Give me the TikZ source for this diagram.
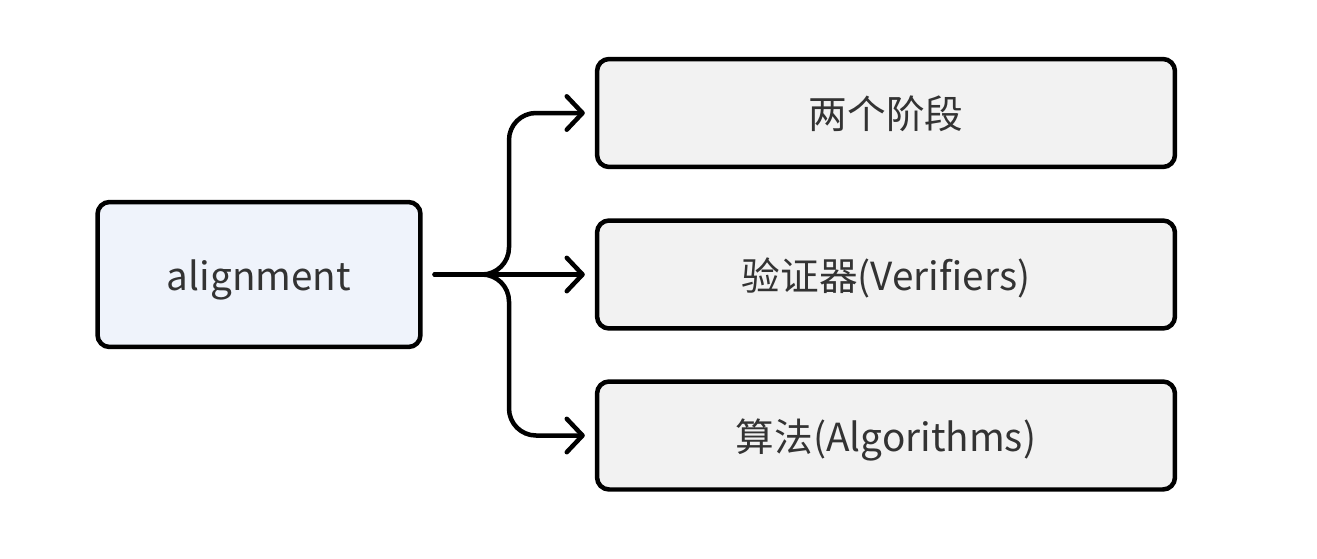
\documentclass[tikz,border=0pt]{standalone}
\usepackage{fontspec}
\setmainfont{Noto Sans CJK SC}
\usetikzlibrary{arrows.meta}
\definecolor{rootfill}{RGB}{239,243,251}
\definecolor{leaffill}{RGB}{242,242,242}
\definecolor{textgray}{RGB}{51,51,51}
\begin{document}
\begin{tikzpicture}[x=0.02cm, y=-0.02cm,
    box/.style={draw, rectangle, rounded corners=0.24cm, line width=0.09cm, text=textgray,
        text height=0.8cm, text depth=0.18cm, font=\fontsize{22pt}{26pt}\selectfont},
    link/.style={line width=0.09cm, line cap=round, rounded corners=0.54cm,
        -{Straight Barb[length=9pt, width=19pt, round]}, shorten <=0.24cm, shorten >=0.2cm}]
    \useasboundingbox (0,0) rectangle (1317,558);
    \node[box, fill=rootfill, minimum width=6.46cm, minimum height=2.9cm] (align) at (259,274.5) {alignment};
    \node[box, fill=leaffill, minimum width=11.56cm, minimum height=2.16cm] (stage) at (886,113) {两个阶段};
    \node[box, fill=leaffill, minimum width=11.56cm, minimum height=2.16cm] (verif) at (886,274.5) {验证器(Verifiers)};
    \node[box, fill=leaffill, minimum width=11.56cm, minimum height=2.16cm] (algo) at (886,435.5) {算法(Algorithms)};
    \coordinate (fork) at (509,274.5);
    % branches
    \draw[link] (align.east) -- (fork) |- (stage.west);
    \draw[link] (align.east) -- (verif.west);
    \draw[link] (align.east) -- (fork) |- (algo.west);
\end{tikzpicture}
\end{document}
